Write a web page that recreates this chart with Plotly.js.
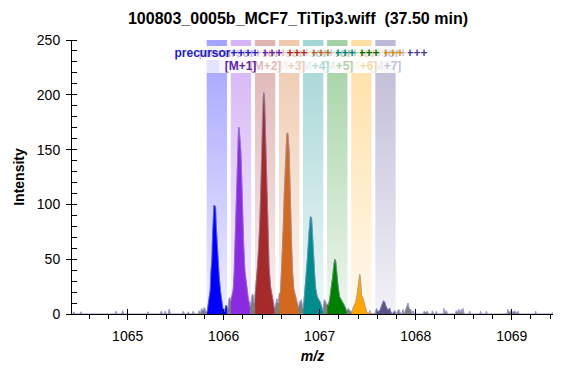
<!DOCTYPE html>
<html><head><meta charset="utf-8">
<script src="https://cdn.plot.ly/plotly-3.0.1.min.js"></script>
<style>html,body{margin:0;padding:0;background:#fff}#chart{width:582px;height:375px}</style>
</head><body><div id="chart"></div>
<script>
const chartTitle = "100803_0005b_MCF7_TiTip3.wiff  (37.50 min)";
const xTitle = "m/z";
const yTitle = "Intensity";
const precursorLabel = "precursor++++";
const isotopeLabels = ["", "[M+1]", "[M+2]", "[M+3]", "[M+4]", "[M+5]", "[M+6]", "[M+7]"];
const isotopeMz = [1065.929, 1066.180, 1066.431, 1066.682, 1066.932, 1067.183, 1067.434, 1067.685];
const bandColors = ["#0000ff", "#8a2be2", "#a52a2a", "#d2691e", "#008b8b", "#008000", "#ffa500", "#483d8b"];
const peakColors = ["#0000ff", "#8a2be2", "#a52a2a", "#d2691e", "#008b8b", "#008000", "#ffa500", "rgba(72,61,139,0.65)"];
const labelColors = ["#1e1ec0", "#5a26a8", "#a52a2a", "#c8641c", "#008080", "#007000", "#d89000", "#483d8b"];
const xTickVals = [1065, 1066, 1067, 1068, 1069];
const xTickText = ["1065", "1066", "1067", "1068", "1069"];
const yTickVals = [0, 50, 100, 150, 200, 250];
const yTickText = ["0", "50", "100", "150", "200", "250"];

const spectrumMz = [
1064.426,1064.438,1064.452,1064.504,1064.514,1064.525,1064.868,1064.878,1064.889,1064.936,1064.948,1064.962,
1065.201,1065.211,1065.222,1065.336,1065.350,1065.362,1065.381,1065.391,1065.404,1065.422,1065.433,1065.445,
1065.568,1065.579,1065.591,1065.620,1065.631,1065.643,1065.672,1065.683,1065.695,1065.735,1065.745,1065.758,
1065.770,1065.784,1065.799,1065.815,
1065.828,1065.839,1065.849,1065.860,1065.867,1065.877,1065.884,1065.891,1065.898,1065.908,1065.916,1065.922,
1065.932,1065.943,1065.953,1065.968,1065.978,1065.992,1066.007,1066.023,1066.033,
1066.044,1066.054,1066.068,
1066.075,1066.085,1066.099,1066.109,1066.120,1066.130,1066.137,1066.148,1066.155,1066.161,1066.169,1066.179,
1066.189,1066.197,1066.207,1066.221,1066.238,1066.255,1066.273,
1066.288,1066.297,1066.309,1066.319,
1066.327,1066.335,1066.345,1066.353,1066.366,1066.377,1066.387,1066.394,1066.403,1066.411,1066.418,1066.426,
1066.432,1066.439,1066.453,1066.463,1066.473,1066.488,1066.509,1066.528,
1066.540,1066.554,1066.567,
1066.578,1066.592,1066.602,1066.619,1066.630,1066.640,1066.650,1066.658,1066.668,1066.682,1066.689,1066.696,
1066.707,1066.717,1066.730,1066.746,1066.762,1066.777,
1066.793,1066.809,1066.819,
1066.829,1066.838,1066.855,1066.873,1066.887,1066.897,1066.904,1066.915,1066.925,1066.935,1066.949,1066.959,
1066.973,1066.991,1067.004,1067.019,1067.032,
1067.048,1067.060,1067.070,
1067.080,1067.090,1067.105,1067.123,1067.136,1067.147,1067.157,1067.167,1067.179,1067.191,1067.206,1067.227,
1067.244,1067.261,1067.279,
1067.298,1067.313,
1067.334,1067.355,1067.376,1067.389,1067.400,1067.410,1067.417,1067.425,1067.435,1067.452,1067.462,1067.477,
1067.491,1067.512,1067.522,1067.532,
1067.553,1067.573,
1067.591,1067.604,1067.625,1067.636,1067.649,1067.664,1067.677,1067.691,1067.712,1067.729,1067.745,1067.761,1067.782,
1067.797,1067.823,1067.839,1067.854,1067.868,1067.881,1067.896,1067.910,1067.920,1067.932,1067.948,1067.964,
1067.973,1067.985,1068.078,1068.088,1068.104,1068.119,1068.135,1068.166,1068.173,1068.187,1068.207,1068.214,
1068.227,1068.286,1068.294,1068.306,1068.319,1068.332,1068.411,1068.423,1068.437,1068.448,1068.461,1068.476,
1068.484,1068.492,1068.505,1068.555,1068.562,1068.573,1068.669,1068.676,1068.687,1068.728,1068.736,1068.746,
1068.952,1068.960,1068.978,1068.996,1069.009,1069.030,1069.046,1069.065,1069.077,1069.241,1069.249,1069.259,
1069.415,1069.425
];
const spectrumIntensity = [
0,2,0,0,2,0,0,2.5,0,0,3,0,
0,2,0,0,2.5,0,0,2.5,0,0,4.5,0,
0,2.5,0,0,2,0,0,2.5,0,0,3,1,
5,3,6,2,
2,8,14,22,38,50,72,85,99,99,97,81,
62,45,34,20,12,5,2,8,7,
6,14,15,
12,17,22,38,75,110,133,152,170,170,160,148,
121,93,66,39,24,15,7,
12,18,17,10,
16,25,35,43,62,86,115,153,180,198,202,195,
177,143,98,70,43,25,13,5,
8,14,10,
18,20,39,75,109,130,154,165,165,148,124,93,
63,39,23,17,12,6,
11,13,8,
5,13,31,52,74,87,89,88,70,51,34,23,
16,13,11,7,3,
13,12,9,
9,8,14,26,34,46,50,48,32,26,16,13,
10,7,3,
5,3,
2,7,11,17,27,36,36,31,17,14,10,4,
1,0.5,3,0.5,
0,0,
5,2,3,6,10,12,11,7,3.5,5.5,1,0.5,3,
0,4.3,1,0,4,0.5,4,6,10,5,4,0,
3,0,0,2.5,1,2.5,0,0,3,0,0,2.5,
0,0,5,1,3,0,0,3,1,4.5,1,4,
1.5,5,0,0,2.5,0,0,2.5,0,0,2.5,0,
0,4,1,3.5,1,3,0.5,2.5,0,0,2.5,0,
0,1.5
];

// styling constants
const FONT = "Liberation Sans, Arial, sans-serif";
const xRange = [1064.42, 1069.43];
const yRange = [0, 250];
const bandHalfWidth = 0.106;

function rgba(hex, a) {
  const n = parseInt(hex.slice(1), 16);
  return "rgba(" + ((n >> 16) & 255) + "," + ((n >> 8) & 255) + "," + (n & 255) + "," + a + ")";
}

const traces = [];
// isotope bands with vertical gradient
isotopeMz.forEach((c, k) => {
  traces.push({
    x: [c - bandHalfWidth, c + bandHalfWidth, c + bandHalfWidth, c - bandHalfWidth, c - bandHalfWidth],
    y: [yRange[0], yRange[0], yRange[1], yRange[1], yRange[0]],
    type: "scatter", mode: "none", fill: "toself",
    fillcolor: rgba(bandColors[k], 0.2),
    fillgradient: {type: "vertical", colorscale: [[0, rgba(bandColors[k], 0.07)], [1, rgba(bandColors[k], 0.36)]]},
    hoverinfo: "skip", showlegend: false
  });
});
// full profile in gray
traces.push({
  x: spectrumMz, y: spectrumIntensity, type: "scatter", mode: "lines",
  fill: "tozeroy", fillcolor: "rgb(125,125,125)",
  line: {color: "rgba(150,150,205,0.9)", width: 1},
  hoverinfo: "skip", showlegend: false
});
// colored isotope segments
isotopeMz.forEach((c, k) => {
  const xs = [], ys = [];
  spectrumMz.forEach((m, i) => {
    if (Math.abs(m - c) <= bandHalfWidth) { xs.push(m); ys.push(spectrumIntensity[i]); }
  });
  traces.push({
    x: xs, y: ys, type: "scatter", mode: "lines", fill: "tozeroy",
    fillcolor: peakColors[k], line: {color: peakColors[k], width: 0.5},
    hoverinfo: "skip", showlegend: false
  });
});
// thin outline on top (on overlay axes used for crossing ticks)
traces.push({
  x: spectrumMz, y: spectrumIntensity, type: "scatter", mode: "lines",
  line: {color: "rgba(160,160,210,0.55)", width: 0.8},
  xaxis: "x2", yaxis: "y2", hoverinfo: "skip", showlegend: false
});

// labels: drawn in reverse so the precursor label is on top
const annotations = [];
const row1Y = 0.9535, row2Y = 0.9034;
function labelBox(text, c, y, color) {
  return {
    text: text, x: c, xref: "x", y: y, yref: "paper", xanchor: "center", yanchor: "middle",
    showarrow: false, width: 92, height: 13, borderpad: 0.5, borderwidth: 0,
    bgcolor: "rgba(255,255,255,0.68)",
    font: {family: FONT, size: 12, color: color, weight: "bold"}
  };
}
for (let k = isotopeMz.length - 1; k >= 0; k--) {
  if (isotopeLabels[k]) annotations.push(labelBox(isotopeLabels[k], isotopeMz[k], row2Y, labelColors[k]));
  annotations.push(labelBox(precursorLabel, isotopeMz[k], row1Y, labelColors[k]));
}

const axisCommon = {showgrid: false, zeroline: false, tickcolor: "#000", tickwidth: 1};
const layout = {
  width: 582, height: 375,
  margin: {l: 72, r: 29, t: 40, b: 61},
  paper_bgcolor: "#fff", plot_bgcolor: "#fff",
  showlegend: false,
  title: {text: "<b>" + chartTitle + "</b>", x: 0.512, xref: "container", xanchor: "center",
          y: 0.952, yref: "container", yanchor: "middle",
          font: {family: FONT, size: 16, color: "#000"}},
  xaxis: Object.assign({}, axisCommon, {
    range: xRange, tickmode: "array", tickvals: xTickVals, ticktext: xTickText,
    ticks: "outside", ticklen: 5, ticklabelstandoff: 4,
    showline: true, linecolor: "#000", linewidth: 1,
    minor: {tickmode: "linear", tick0: xTickVals[0], dtick: 0.2, ticks: "outside", ticklen: 4, tickcolor: "#000", showgrid: false},
    tickfont: {family: FONT, size: 14, color: "#000"},
    title: {text: "<b><i>" + xTitle + "</i></b>", standoff: 8, font: {family: FONT, size: 14, color: "#000"}}
  }),
  yaxis: Object.assign({}, axisCommon, {
    range: yRange, tickmode: "array", tickvals: yTickVals, ticktext: yTickText,
    ticks: "outside", ticklen: 5, ticklabelstandoff: 3,
    showline: true, linecolor: "#000", linewidth: 1,
    minor: {tickmode: "linear", tick0: 0, dtick: 10, ticks: "inside", ticklen: 5, tickcolor: "#000", showgrid: false},
    tickfont: {family: FONT, size: 14, color: "#000"},
    title: {text: "<b>" + yTitle + "</b>", standoff: 8, font: {family: FONT, size: 14, color: "#000"}}
  }),
  xaxis2: Object.assign({}, axisCommon, {
    overlaying: "x", anchor: "y2", range: xRange, tickmode: "array", tickvals: xTickVals,
    ticks: "inside", ticklen: 5, showticklabels: false, showline: false
  }),
  yaxis2: Object.assign({}, axisCommon, {
    overlaying: "y", anchor: "x2", range: yRange, tickmode: "array", tickvals: yTickVals,
    ticks: "inside", ticklen: 5, showticklabels: false, showline: false
  }),
  annotations: annotations
};

Plotly.newPlot("chart", traces, layout, {staticPlot: true, displayModeBar: false});
</script>
</body></html>
